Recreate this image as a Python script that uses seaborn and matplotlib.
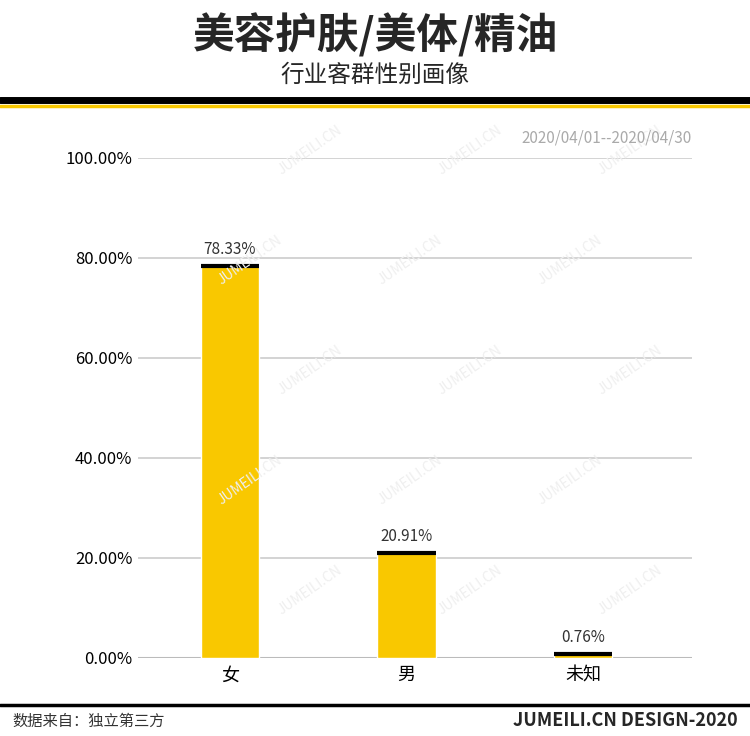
import matplotlib
matplotlib.use("Agg")
import matplotlib.pyplot as plt
import seaborn as sns
import pandas as pd

categories = ["女", "男", "未知"]
values = [78.33, 20.91, 0.76]
labels = ["78.33%", "20.91%", "0.76%"]
yticks = [0, 20, 40, 60, 80, 100]

sns.set_theme(style="white")
plt.rcParams['font.family'] = ['Noto Sans CJK SC', 'DejaVu Sans']

W, H = 750, 736
fig = plt.figure(figsize=(7.5, 7.36), dpi=100)

# faint watermarks (behind axes, kept inside the figure)
for x in range(250, 720, 160):
    for y in range(150, 690, 110):
        xx = x + ((y // 110) % 2) * 60
        if xx > 700:
            continue
        fig.text(xx / W, 1 - y / H, "JUMEILI.CN", rotation=35, fontsize=10,
                 color="#efefef", ha="center", va="center", zorder=0)

ax = fig.add_axes([138/W, 1-658/H, (692-138)/W, 500/H])
ax.patch.set_alpha(0)
df = pd.DataFrame({"cat": categories, "val": values})
sns.barplot(data=df, x="cat", y="val", color="#F9C800", width=0.33, ax=ax, zorder=3, saturation=1)
for i, p in enumerate(ax.patches):
    x0 = p.get_x(); w = p.get_width(); h = p.get_height()
    ax.plot([x0, x0+w], [h, h], color="black", lw=3, zorder=4, solid_capstyle="butt")
    ax.text(x0+w/2, h+1.6, labels[i], ha="center", va="bottom", fontsize=11, color="#333333")
ax.set_xlim(-0.521, 2.617)
ax.set_ylim(0, 100)
ax.set_yticks(yticks)
ax.set_yticklabels([f"{v:.2f}%" for v in yticks], fontsize=12, color="black", fontweight="medium")
ax.tick_params(axis="x", labelsize=13, length=0, pad=6, labelcolor="black")
ax.tick_params(axis="y", length=0, pad=4)
ax.yaxis.grid(True, color="#cccccc", lw=1.2)
ax.set_axisbelow(True)
ax.set_xlabel(""); ax.set_ylabel("")
for s in ax.spines.values():
    s.set_visible(False)
ax.axhline(0, color="#bbbbbb", lw=1.5, zorder=2)

fig.text(0.5, 1-35/H, "美容护肤/美体/精油", ha="center", va="center", fontsize=30, fontweight="heavy")
fig.text(0.5, 1-75/H, "行业客群性别画像", ha="center", va="center", fontsize=17, fontweight="medium")
fig.add_artist(plt.Line2D([0, 1], [1-100/H, 1-100/H], color="black", lw=5))
fig.add_artist(plt.Line2D([0, 1], [1-105.5/H, 1-105.5/H], color="#F9C800", lw=2.5))
fig.text(692/W, 1-138/H, "2020/04/01--2020/04/30", ha="right", va="center", fontsize=11, color="#aaaaaa")
fig.add_artist(plt.Line2D([0, 1], [1-705/H, 1-705/H], color="black", lw=2.5))
fig.text(12/W, 1-721/H, "数据来自：独立第三方", ha="left", va="center", fontsize=11, color="#333333")
fig.text(738/W, 1-721/H, "JUMEILI.CN DESIGN-2020", ha="right", va="center", fontsize=13, fontweight="bold")

fig.savefig("out.png", dpi=100, facecolor="white")
